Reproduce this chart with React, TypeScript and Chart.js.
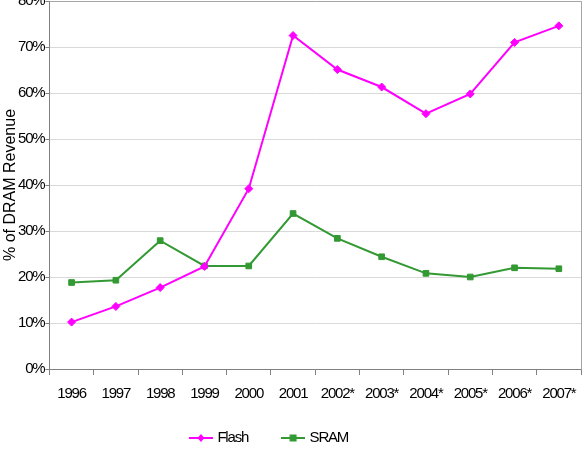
import React, { useEffect, useRef } from "react";
import { Chart, registerables } from "chart.js";

Chart.register(...registerables);

const years = ["1996", "1997", "1998", "1999", "2000", "2001", "2002*", "2003*", "2004*", "2005*", "2006*", "2007*"];
const flash = [10.2, 13.6, 17.7, 22.3, 39.2, 72.5, 65.1, 61.3, 55.5, 59.8, 71.0, 74.6];
const sram = [18.8, 19.3, 27.9, 22.4, 22.4, 33.8, 28.4, 24.4, 20.8, 20.0, 22.0, 21.8];
const yTicks = [0, 10, 20, 30, 40, 50, 60, 70, 80];
const yTitle = "% of DRAM Revenue";

const FLASH_COLOR = "#ff00ff";
const SRAM_COLOR = "#339933";
const FONT = "'Liberation Sans', Arial, sans-serif";
const LEGEND_PAD = 36;

function legendIcon(color: string, shape: "diamond" | "square") {
  const c = document.createElement("canvas");
  c.width = 24;
  c.height = 10;
  const g = c.getContext("2d")!;
  g.strokeStyle = color;
  g.lineWidth = 2;
  g.beginPath();
  g.moveTo(0, 5);
  g.lineTo(24, 5);
  g.stroke();
  g.fillStyle = color;
  if (shape === "diamond") {
    g.beginPath();
    g.moveTo(12, 1);
    g.lineTo(15.5, 5);
    g.lineTo(12, 9);
    g.lineTo(8.5, 5);
    g.closePath();
    g.fill();
  } else {
    g.fillRect(8.5, 1.5, 7, 7);
  }
  return c;
}

const framePlugin = {
  id: "frame",
  beforeLayout(chart: any) {
    chart.ctx.letterSpacing = "-1.2px";
  },
  afterLayout(chart: any) {
    const lg = chart.legend;
    if (lg) {
      const target = 439;
      const cur = lg.top + LEGEND_PAD + 8.5;
      const dy = target - cur;
      lg.top += dy;
      lg.bottom += dy;
      lg.left -= 29;
      lg.right -= 29;
    }
  },
  beforeDraw(chart: any) {
    chart.ctx.letterSpacing = "-1.2px";
  },
  afterDraw(chart: any) {
    const { ctx, chartArea } = chart;
    ctx.save();
    ctx.strokeStyle = "#a6a6a6";
    ctx.lineWidth = 1;
    ctx.beginPath();
    ctx.moveTo(Math.round(chartArea.left) + 0.5, Math.round(chartArea.top) + 0.5);
    ctx.lineTo(Math.round(chartArea.right) + 0.5, Math.round(chartArea.top) + 0.5);
    ctx.lineTo(Math.round(chartArea.right) + 0.5, Math.round(chartArea.bottom) + 0.5);
    ctx.stroke();
    ctx.letterSpacing = "0px";
    ctx.fillStyle = "#000";
    ctx.font = `16px ${FONT}`;
    ctx.textAlign = "center";
    ctx.textBaseline = "middle";
    ctx.translate(11, (chartArea.top + chartArea.bottom) / 2);
    ctx.rotate(-Math.PI / 2);
    ctx.fillText(yTitle, 0, 0);
    ctx.restore();
  },
};

export default function App() {
  const ref = useRef<HTMLCanvasElement>(null);
  useEffect(() => {
    if (!ref.current) return;
    const chart = new Chart(ref.current, {
      type: "line",
      data: {
        labels: years,
        datasets: [
          {
            label: "Flash",
            data: flash,
            borderColor: FLASH_COLOR,
            backgroundColor: FLASH_COLOR,
            borderWidth: 2,
            pointStyle: "rectRot",
            pointRadius: 4,
            pointBorderWidth: 1,
            tension: 0,
          },
          {
            label: "SRAM",
            data: sram,
            borderColor: SRAM_COLOR,
            backgroundColor: SRAM_COLOR,
            borderWidth: 2,
            pointStyle: "rect",
            pointRadius: 4,
            pointBorderWidth: 1,
            tension: 0,
          },
        ],
      },
      options: {
        responsive: false,
        animation: false,
        layout: { autoPadding: false, padding: { top: 1, right: 5, left: 17, bottom: 0 } },
        plugins: {
          tooltip: { enabled: false },
          legend: {
            position: "bottom",
            labels: {
              usePointStyle: true,
              pointStyleWidth: 18,
              padding: LEGEND_PAD,
              color: "#000",
              font: { family: FONT, size: 15 },
              generateLabels: (ch: any) =>
                ch.data.datasets.map((ds: any, i: number) => ({
                  text: ds.label,
                  pointStyle: legendIcon(ds.borderColor, i === 0 ? "diamond" : "square"),
                  fillStyle: ds.borderColor,
                  strokeStyle: ds.borderColor,
                  lineWidth: 0,
                  hidden: false,
                  datasetIndex: i,
                  fontColor: "#000",
                })),
            },
          },
        },
        scales: {
          x: {
            offset: true,
            afterFit: (s: any) => {
              s.paddingLeft = 0;
              s.paddingRight = 0;
              s.paddingTop = 0;
              s.paddingBottom = 0;
            },
            grid: {
              offset: true,
              drawOnChartArea: false,
              drawTicks: true,
              tickLength: 6,
              color: "#808080",
            },
            border: { color: "#808080", width: 1 },
            ticks: {
              color: "#000",
              font: { family: FONT, size: 15 },
              padding: 10,
              maxRotation: 0,
              autoSkip: false,
            },
          },
          y: {
            min: 0,
            max: 80,
            afterBuildTicks: (s: any) => {
              s.ticks = yTicks.map((v) => ({ value: v }));
            },
            afterFit: (s: any) => {
              s.paddingTop = 0;
              s.paddingBottom = 0;
            },
            grid: {
              color: "#d9d9d9",
              tickLength: 4,
              tickColor: "#808080",
            },
            border: { color: "#808080", width: 1 },
            ticks: {
              color: "#000",
              font: { family: FONT, size: 15 },
              padding: 1,
              callback: (v: any) => v + "%",
            },
          },
        },
      },
      plugins: [framePlugin],
    });
    return () => chart.destroy();
  }, []);
  return (
    <div style={{ position: "fixed", left: 0, top: 0, width: 586, height: 474, background: "#fff" }}>
      <canvas ref={ref} width={586} height={474} />
    </div>
  );
}
